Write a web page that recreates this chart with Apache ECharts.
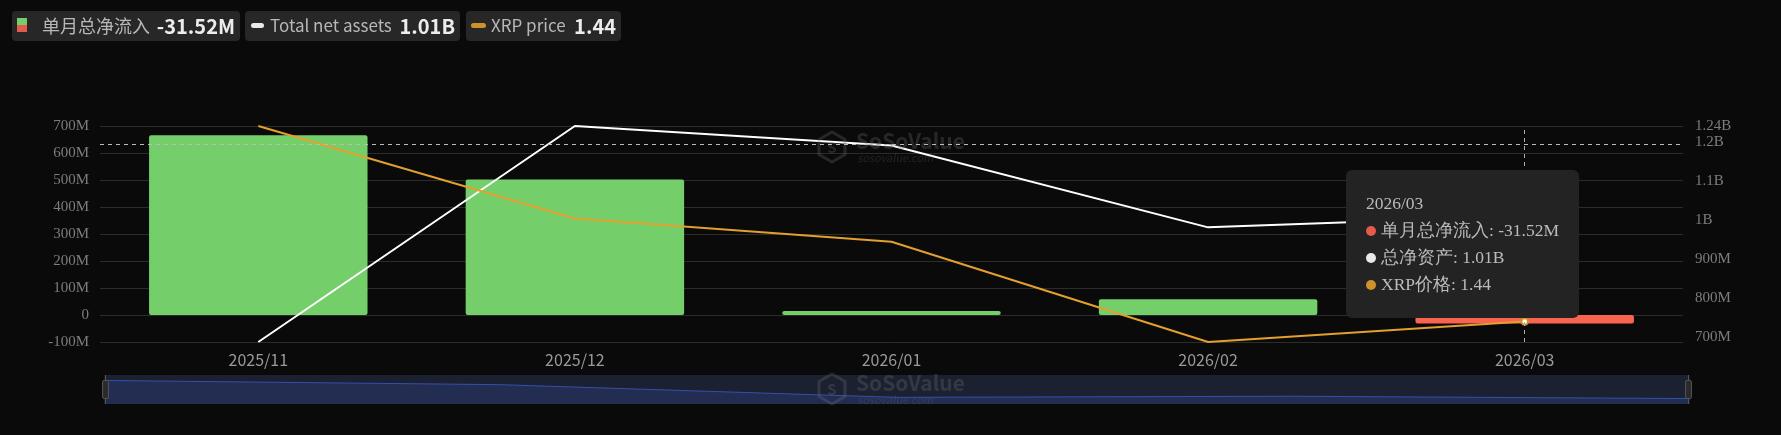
<!DOCTYPE html>
<html><head><meta charset="utf-8">
<script src="https://cdn.jsdelivr.net/npm/echarts@6/dist/echarts.min.js"></script>
<style>html,body{margin:0;padding:0;background:#0a0a0a;overflow:hidden}#c{width:1781px;height:435px}</style>
</head><body><div id="c"></div>
<script>
const categories = ['2025/11', '2025/12', '2026/01', '2026/02', '2026/03'];
const monthlyNetInflow = [666e6, 502e6, 15e6, 58e6, -31.52e6];
const totalNetAssets = [0.688e9, 1.24e9, 1.19e9, 0.981e9, 1.01e9];
const xrpPrice = [2.20, 1.84, 1.75, 1.36, 1.44];
const legendNames = ['单月总净流入', 'Total net assets', 'XRP price'];
const tooltipNames = ['单月总净流入', '总净资产', 'XRP价格'];

const GREEN = '#74cf6a', RED = '#e35b4a', WHITE = '#e8e8e8', ORANGE = '#cf922b';
const SANS = "'Noto Sans CJK SC', 'Noto Sans', sans-serif";
const SERIF = "'Liberation Serif', 'DejaVu Serif', serif";

function trim(x) { return String(parseFloat(x.toFixed(2))); }
function fmtBig(v) {
  const a = Math.abs(v);
  if (a >= 1e9) return trim(v / 1e9) + 'B';
  if (a >= 1e6) return trim(v / 1e6) + 'M';
  if (a === 0) return '0';
  return trim(v);
}
const last = arr => arr[arr.length - 1];
const legendValues = [fmtBig(last(monthlyNetInflow)), fmtBig(last(totalNetAssets)), trim(last(xrpPrice))];

const chart = echarts.init(document.getElementById('c'), null, {renderer: 'canvas'});

function legendBox(x, w, iconEls, labelX, idx, labelSize) {
  return [
    {type: 'rect', left: x, top: 11, shape: {width: w, height: 30, r: 4}, style: {fill: '#272727'}, z: 10},
    ...iconEls,
    {type: 'text', x: labelX, y: 26, style: {text: legendNames[idx], fill: '#b8b8b8', font: labelSize + 'px ' + SANS, verticalAlign: 'middle', align: 'left'}, z: 11},
    {type: 'text', x: x + w - 5, y: 26, style: {text: legendValues[idx], fill: '#ececec', font: '600 20px ' + SANS, verticalAlign: 'middle', align: 'right'}, z: 11}
  ];
}

function watermark(dy) {
  const cx = 832, cy = 147 + dy, r = 15;
  const pts = [];
  for (let i = 0; i < 6; i++) { const a = Math.PI / 6 + i * Math.PI / 3; pts.push([cx + r * Math.cos(a), cy + r * Math.sin(a)]); }
  return [
    {type: 'polygon', shape: {points: pts}, style: {fill: 'none', stroke: 'rgba(110,110,110,0.3)', lineWidth: 3}, z: 50, silent: true},
    {type: 'text', x: cx, y: cy, style: {text: 'S', fill: 'rgba(110,110,110,0.3)', font: 'bold 15px ' + SANS, align: 'center', verticalAlign: 'middle'}, z: 50, silent: true},
    {type: 'text', x: 856, y: 141 + dy, style: {text: 'SoSoValue', fill: 'rgba(110,110,110,0.3)', font: 'bold 21px ' + SANS, verticalAlign: 'middle'}, z: 50, silent: true},
    {type: 'text', x: 857, y: 158 + dy, style: {text: 'sosovalue.com', fill: 'rgba(110,110,110,0.25)', font: 'italic 11px ' + SANS, verticalAlign: 'middle'}, z: 50, silent: true}
  ];
}

const graphics = [
  ...legendBox(12, 228, [
    {type: 'rect', shape: {x: 17, y: 18, width: 10, height: 7}, style: {fill: GREEN}, z: 11},
    {type: 'rect', shape: {x: 17, y: 25, width: 10, height: 7}, style: {fill: RED}, z: 11}
  ], 42, 0, 18),
  ...legendBox(245, 215, [
    {type: 'rect', shape: {x: 251, y: 23, width: 13, height: 5, r: 2.5}, style: {fill: WHITE}, z: 11}
  ], 270, 1, 17),
  ...legendBox(466, 155, [
    {type: 'rect', shape: {x: 471, y: 23, width: 15, height: 5, r: 2.5}, style: {fill: ORANGE}, z: 11}
  ], 491, 2, 17),
  ...watermark(0),
  ...watermark(242)
];

const seriesColors = [v => (v >= 0 ? GREEN : RED), () => WHITE, () => ORANGE];
const seriesData = [monthlyNetInflow, totalNetAssets, xrpPrice];

const option = {
  backgroundColor: '#0a0a0a',
  animation: false,
  graphic: graphics,
  grid: {left: 100, right: 98, top: 126, bottom: 93},
  tooltip: {
    trigger: 'axis',
    backgroundColor: '#232323',
    borderColor: '#232323',
    borderWidth: 0,
    padding: [20, 20, 20, 20],
    extraCssText: 'box-shadow:none;border-radius:6px;width:193px;',
    position: function () { return [1346, 170]; },
    axisPointer: {
      type: 'cross',
      label: {show: false},
      lineStyle: {color: '#aaa', type: [4, 4], width: 1},
      crossStyle: {color: '#bbb', type: [4, 4], width: 1}
    },
    formatter: function (params) {
      const idx = params[0].dataIndex;
      let html = '<div style="font-family:' + SERIF.replace(/"/g, '') + ';font-size:17.5px;line-height:27px;color:#bbb">';
      html += '<div>' + categories[idx] + '</div>';
      const vals = [fmtBig(monthlyNetInflow[idx]), fmtBig(totalNetAssets[idx]), trim(xrpPrice[idx])];
      for (let i = 0; i < 3; i++) {
        const c = seriesColors[i](seriesData[i][idx]);
        html += '<div><span style="display:inline-block;width:10px;height:10px;border-radius:5px;background:' + c + ';margin-right:5px;vertical-align:0px"></span>' + tooltipNames[i] + ': ' + vals[i] + '</div>';
      }
      return html + '</div>';
    }
  },
  xAxis: {
    type: 'category',
    data: categories,
    axisLine: {show: false},
    axisTick: {show: false},
    axisLabel: {color: '#9a9a9a', fontFamily: SANS, fontSize: 16, margin: 10}
  },
  yAxis: [
    {
      type: 'value', min: -100e6, max: 700e6, interval: 100e6,
      axisLabel: {color: '#7d7d7d', fontFamily: SERIF, fontSize: 15, margin: 11, formatter: fmtBig},
      splitLine: {lineStyle: {color: '#2c2c2c', width: 1}},
      axisLine: {show: false}, axisTick: {show: false}
    },
    {
      type: 'value', position: 'right', min: 'dataMin', max: 'dataMax',
      axisLabel: {color: '#7d7d7d', fontFamily: SERIF, fontSize: 15, margin: 12, formatter: fmtBig, showMinLabel: false, showMaxLabel: true},
      splitLine: {show: false}, axisLine: {show: false}, axisTick: {show: false}
    },
    {
      type: 'value', show: false, min: 'dataMin', max: 'dataMax',
      splitLine: {show: false}
    }
  ],
  dataZoom: [{
    type: 'slider', xAxisIndex: 0, start: 0, end: 100,
    left: 102, right: 94, top: 375, height: 29,
    backgroundColor: '#1c2133', borderColor: 'transparent',
    fillerColor: 'rgba(28,33,51,0.2)',
    showDetail: false, brushSelect: false, moveHandleSize: 0,
    handleStyle: {color: '#2a2a2a', borderColor: '#555'},
    dataBackground: {lineStyle: {color: '#3a5bc9', width: 1, opacity: 1}, areaStyle: {color: '#25305a', opacity: 1}},
    selectedDataBackground: {lineStyle: {color: '#3a5bc9', width: 1, opacity: 1}, areaStyle: {color: '#25305a', opacity: 1}}
  }],
  series: [
    {
      name: legendNames[0], type: 'bar', yAxisIndex: 0, data: monthlyNetInflow, barWidth: '69%',
      itemStyle: {color: p => seriesColors[0](p.value), borderRadius: 2}
    },
    {
      name: legendNames[1], type: 'line', yAxisIndex: 1, data: totalNetAssets, showSymbol: false,
      color: WHITE, lineStyle: {color: WHITE, width: 2}
    },
    {
      name: legendNames[2], type: 'line', yAxisIndex: 2, data: xrpPrice, showSymbol: false,
      color: ORANGE, lineStyle: {color: ORANGE, width: 2}
    }
  ]
};
chart.setOption(option);
chart.dispatchAction({type: 'showTip', x: 1525, y: 144});
</script></body></html>
